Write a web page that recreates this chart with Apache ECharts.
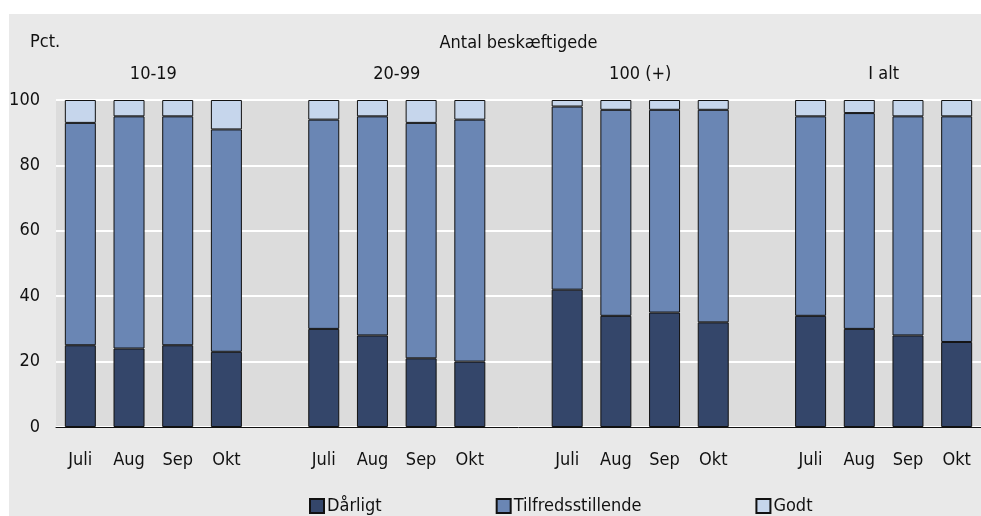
<!DOCTYPE html>
<html>
<head>
<meta charset="utf-8">
<script src="https://cdn.jsdelivr.net/npm/echarts@6/dist/echarts.min.js"></script>
<style>
  html, body { margin: 0; padding: 0; background: #fff; }
  #main { width: 981px; height: 516px; }
</style>
</head>
<body>
<div id="main"></div>
<script>
var groups = ['10-19', '20-99', '100 (+)', 'I alt']
var months = ['Juli', 'Aug', 'Sep', 'Okt']
// values per group, in month order
var daarligt = [[25, 24, 25, 23], [30, 28, 21, 20], [42, 34, 35, 32], [34, 30, 28, 26]]
var tilfreds = [[68, 71, 70, 68], [64, 67, 72, 74], [56, 63, 62, 65], [61, 66, 67, 69]]
var godt = [[7, 5, 5, 9], [6, 5, 7, 6], [2, 3, 3, 3], [5, 4, 5, 5]]

var font = '"DejaVu Sans Condensed", "Liberation Sans", Arial, sans-serif'

// categories with an empty slot between groups
var cats = [], d1 = [], d2 = [], d3 = [], groupIdx = []
for (var g = 0; g < groups.length; g++) {
  if (g > 0) {
    cats.push(' '.repeat(g))
    d1.push(null); d2.push(null); d3.push(null)
  }
  groupIdx.push(cats.length)
  for (var m = 0; m < months.length; m++) {
    cats.push(months[m] + (g ? '\u200b'.repeat(g) : ''))
    d1.push(daarligt[g][m]); d2.push(tilfreds[g][m]); d3.push(godt[g][m])
  }
}

var myChart = echarts.init(document.getElementById('main'))
var barStyle = function(c) {
  return { color: c, borderColor: '#111', borderWidth: 1 }
}
var option = {
  animation: false,
  graphic: [
    { type: 'rect', z: -10, shape: { x: 9, y: 14, width: 972, height: 502 }, style: { fill: '#e9e9e9' } },
    { type: 'text', left: 30, top: 33, style: { text: 'Pct.', font: '18px ' + font, fill: '#111' } }
  ],
  grid: {
    left: 56, right: -2, top: 100, bottom: 89,
    show: true, backgroundColor: '#dcdcdc', borderWidth: 0
  },
  legend: {
    left: 304, top: 492,
    itemWidth: 14, itemHeight: 14, itemGap: 114,
    icon: 'rect',
    textStyle: { fontFamily: font, fontSize: 18, color: '#111', padding: [0, 0, 0, -2] },
    data: ['Dårligt', 'Tilfredsstillende', 'Godt']
  },
  xAxis: {
    type: 'category',
    data: cats,
    axisTick: { show: false },
    axisLine: { lineStyle: { color: '#111', width: 1 } },
    axisLabel: {
      fontFamily: font, fontSize: 18, color: '#111', margin: 24,
      formatter: function(v) { return v.replace(/\u200b/g, '').trim() }
    }
  },
  yAxis: {
    type: 'value', min: 0, max: 100, interval: 20,
    axisLine: { show: false },
    axisTick: { show: false },
    axisLabel: { fontFamily: font, fontSize: 18, color: '#111', margin: 16 },
    splitLine: { lineStyle: { color: '#fff', width: 2 } }
  },
  series: [
    { name: 'Dårligt', type: 'bar', stack: 'a', barWidth: 31, data: d1, itemStyle: barStyle('#34466a') },
    { name: 'Tilfredsstillende', type: 'bar', stack: 'a', barWidth: 31, data: d2, itemStyle: barStyle('#6a86b4') },
    { name: 'Godt', type: 'bar', stack: 'a', barWidth: 31, data: d3, itemStyle: barStyle('#c6d6ec') }
  ]
}
myChart.setOption(option)

// group titles centred over each group of bars
var extra = []
var x0 = myChart.convertToPixel({ xAxisIndex: 0 }, cats[0])
var x1 = myChart.convertToPixel({ xAxisIndex: 0 }, cats[cats.length - 1])
extra.push({ type: 'text', x: (x0 + x1) / 2, y: 34, style: { text: 'Antal beskæftigede', font: '18px ' + font, fill: '#111', align: 'center' } })
for (var i = 0; i < groups.length; i++) {
  var a = myChart.convertToPixel({ xAxisIndex: 0 }, cats[groupIdx[i]])
  var b = myChart.convertToPixel({ xAxisIndex: 0 }, cats[groupIdx[i] + 3])
  extra.push({ type: 'text', x: (a + b) / 2, y: 65, style: { text: groups[i], font: '18px ' + font, fill: '#111', align: 'center' } })
}
myChart.setOption({ graphic: option.graphic.concat(extra) })
</script>
</body>
</html>
